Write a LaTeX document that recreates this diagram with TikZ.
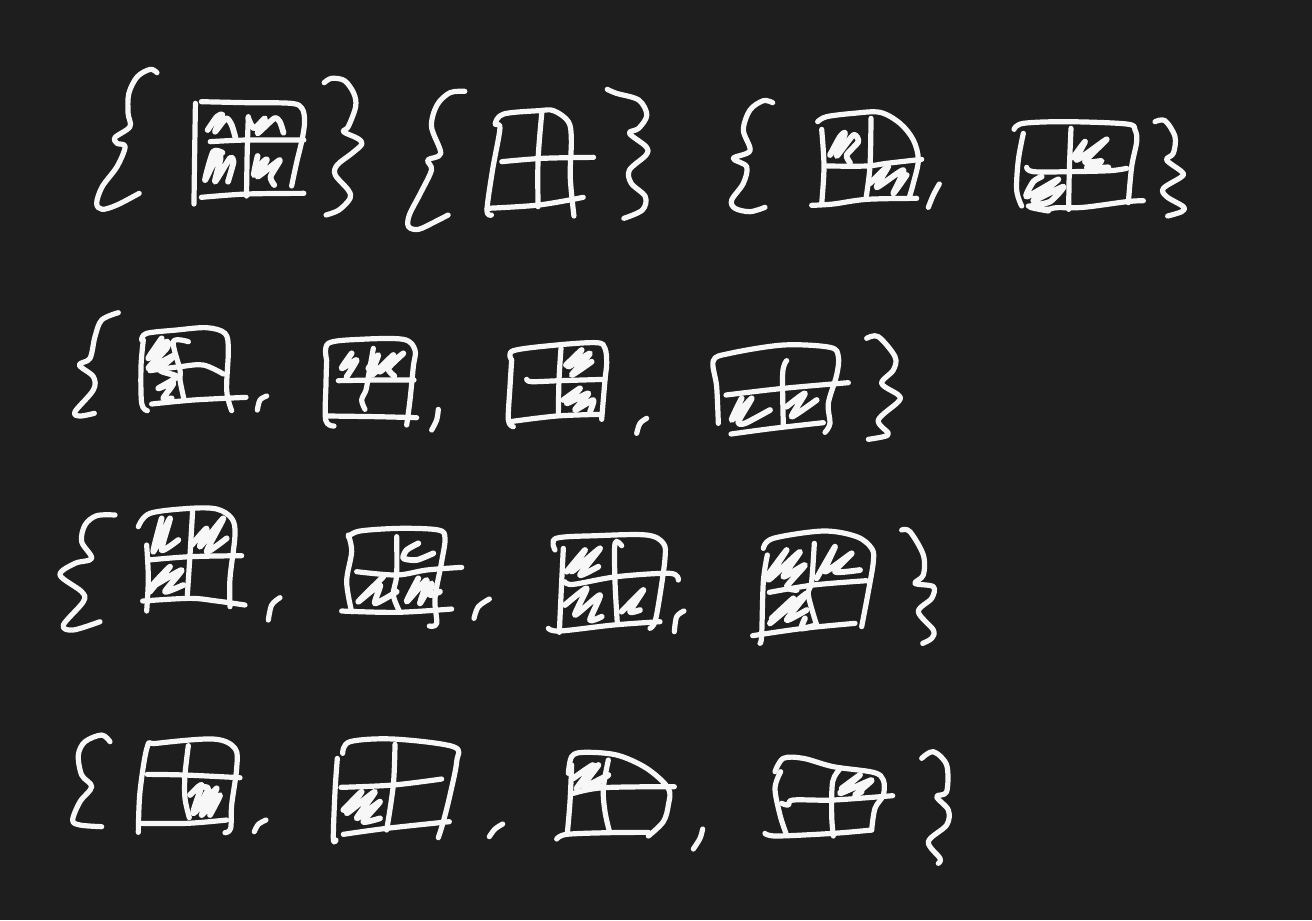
\documentclass[tikz,border=0pt]{standalone}
\definecolor{slate}{HTML}{1E1E1E}
\tikzset{
  ink/.style={white!97!black, line width=0.52mm, line cap=round, line join=round},
  shade ink/.style={ink, line width=0.58mm},
  crop/.style={shift={#1}, scale=0.33333}
}
\newcommand{\stroke}[1]{\draw[ink] plot[smooth, tension=0.55] coordinates {#1};}
\newcommand{\scribble}[1]{\draw[shade ink] plot[smooth, tension=0.4] coordinates {#1};}

\begin{document}
\begin{tikzpicture}[x=0.01cm, y=-0.01cm]
  \fill[slate] (0,0) rectangle (1312,920);
  % first row, left part
  \begin{scope}[shift={(80,50)}, xscale=0.37, yscale=0.33333]
    \stroke{(208,68) (190,58) (155,80) (132,130) (130,190) (135,230) (95,262) (100,280) (122,290) (100,350) (60,410) (45,460) (60,478) (100,465) (160,430)}
    \stroke{(312,160) (310,300) (308,462)}
    \stroke{(328,155) (450,158) (570,160) (600,175) (607,215) (600,270) (585,340) (572,408)}
    \stroke{(352,275) (450,270) (605,270)}
    \stroke{(328,442) (450,432) (605,430)}
    \stroke{(455,200) (452,300) (450,438)}
    \scribble{(345,240) (370,200) (385,195) (365,245) (395,205) (410,225) (420,262)}
    \scribble{(455,205) (470,235) (500,205) (480,250) (525,205) (540,215) (550,248)}
    \scribble{(385,308) (360,305) (338,390) (370,320) (380,325) (365,395) (405,325) (415,335) (400,395)}
    \scribble{(480,318) (470,375) (495,335) (505,330) (480,380) (540,330) (515,380) (525,405)}
    \stroke{(660,98) (680,85) (715,92) (740,130) (745,170) (725,230) (712,245) (750,265) (762,282) (735,310) (695,345) (690,375) (725,420) (730,445) (700,480) (665,495)}
    \stroke{(1040,124) (1000,128) (965,165) (950,230) (975,310) (940,330) (950,360) (920,430) (890,495) (888,530) (915,538) (960,515) (995,495)}
    \stroke{(1112,495) (1100,480) (1115,360) (1135,235) (1122,222) (1145,192) (1240,182) (1280,182) (1320,215) (1328,270) (1325,380) (1335,498)}
    \stroke{(1140,335) (1250,325) (1388,322)}
    \stroke{(1100,475) (1240,465) (1360,442)}
    \stroke{(1248,190) (1238,330) (1238,470)}
    \stroke{(1425,118) (1450,130) (1510,150) (1532,195) (1510,235) (1485,250) (1530,290) (1530,315) (1485,360) (1490,400) (1528,440) (1520,480) (1470,505)}
  \end{scope}
  % first row, right part
  \begin{scope}[crop={(700,80)}]
    \stroke{(218,68) (190,62) (150,90) (130,150) (150,212) (100,235) (140,260) (130,310) (95,360) (105,385) (150,395) (195,382)}
    \stroke{(365,148) (372,260) (365,372)}
    \stroke{(353,125) (380,110) (460,100) (540,97) (600,130) (640,180) (655,240) (640,310) (628,352)}
    \stroke{(382,258) (500,258) (560,250) (665,238)}
    \stroke{(335,376) (400,372) (500,358) (650,355)}
    \stroke{(513,115) (510,258) (498,355)}
    \scribble{(390,225) (420,170) (435,160) (410,228) (460,165) (475,185) (440,225) (450,248)}
    \scribble{(510,310) (565,258) (530,322) (610,270) (580,340) (620,285)}
    \stroke{(718,312) (700,345) (685,382)}
    \stroke{(942,148) (970,130) (1100,125) (1280,132) (1305,150) (1310,185) (1295,260) (1285,368)}
    \stroke{(970,160) (955,240) (950,330) (965,378)}
    \stroke{(980,262) (1000,275) (1110,275) (1230,272) (1280,265)}
    \stroke{(985,378) (1040,388) (1070,383) (1150,382) (1280,365) (1330,362)}
    \stroke{(1113,145) (1108,270) (1106,388)}
    \scribble{(1120,232) (1155,185) (1130,240) (1220,178) (1155,245) (1205,243) (1160,262) (1225,262)}
    \scribble{(1025,290) (1000,305) (980,350) (1075,298) (1000,362) (1090,320) (1050,365) (990,380) (1045,392)}
    \stroke{(1365,125) (1395,122) (1425,170) (1420,220) (1400,240) (1445,275) (1445,290) (1390,325) (1400,350) (1450,380) (1445,395) (1403,408)}
  \end{scope}
  % second row
  \begin{scope}[crop={(60,300)}]
    \stroke{(175,38) (125,60) (105,110) (90,175) (58,195) (100,230) (100,270) (45,335) (60,348) (103,340)}
    \stroke{(250,120) (243,200) (245,310) (262,332)}
    \stroke{(245,120) (260,100) (350,90) (440,83) (495,100) (505,150) (500,270) (515,332)}
    \stroke{(270,212) (360,200) (430,195) (490,222)}
    \stroke{(275,312) (400,300) (558,292)}
    \stroke{(385,125) (340,125) (360,210) (360,240) (372,298)}
    \scribble{(305,115) (265,175) (320,125) (320,145) (265,205) (345,165) (300,210) (350,230) (295,265) (340,250) (310,295) (335,295)}
    \stroke{(620,288) (600,300) (592,330)}
    \stroke{(800,180) (798,250) (797,360) (822,378)}
    \stroke{(800,180) (805,130) (900,118) (1030,118) (1065,150) (1060,200) (1050,300) (1040,375)}
    \stroke{(835,242) (950,240) (1062,240)}
    \stroke{(805,348) (950,350) (1070,353)}
    \stroke{(940,145) (925,230) (918,270) (905,300) (915,328)}
    \scribble{(875,160) (845,205) (890,180) (860,230)}
    \scribble{(925,205) (955,165) (935,225) (1000,165) (960,215) (1030,160) (985,205) (1003,228)}
    \stroke{(1135,328) (1130,360) (1115,390)}
  \end{scope}
  \begin{scope}[crop={(490,320)}]
    \stroke{(65,120) (60,200) (55,300) (70,320)}
    \stroke{(65,120) (70,92) (200,75) (320,68) (345,85) (350,130) (345,180) (335,298)}
    \stroke{(110,178) (125,185) (210,182) (345,178)}
    \stroke{(60,305) (200,288) (335,283)}
    \stroke{(213,85) (207,180) (205,285)}
    \scribble{(228,135) (275,90) (235,140) (300,100) (245,165) (305,125)}
    \scribble{(220,240) (270,205) (230,250) (295,220) (255,270) (310,240) (300,275)}
    \stroke{(470,295) (450,310) (440,340)}
    \stroke{(685,310) (680,200) (670,122) (720,100) (880,75) (1020,82) (1045,110) (1040,165) (1015,250) (1020,310) (1005,337)}
    \stroke{(708,225) (880,205) (1075,188)}
    \stroke{(723,342) (850,325) (1000,308)}
    \stroke{(890,122) (878,160) (880,315)}
    \scribble{(755,235) (725,300) (785,235) (745,305) (765,310) (840,270)}
    \scribble{(890,260) (945,220) (905,290) (980,240)}
    \stroke{(1130,55) (1165,50) (1215,110) (1210,150) (1175,190) (1225,225) (1225,245) (1165,300) (1195,340) (1180,350) (1135,358)}
  \end{scope}
  % third row
  \begin{scope}[crop={(50,495)}]
    \stroke{(195,60) (140,62) (105,90) (95,140) (125,190) (75,205) (30,240) (95,290) (100,320) (40,390) (70,405) (150,380)}
    \stroke{(265,95) (300,55) (420,40) (500,42) (545,70) (555,120) (540,250) (540,335)}
    \stroke{(290,150) (295,250) (290,348)}
    \stroke{(295,195) (420,185) (575,182)}
    \stroke{(278,318) (420,310) (500,318) (585,330)}
    \stroke{(428,45) (420,180) (412,300)}
    \scribble{(335,70) (310,170) (360,70) (335,165) (385,135)}
    \scribble{(425,150) (470,100) (450,155) (520,70) (470,170) (530,130)}
    \scribble{(300,290) (360,215) (305,275) (395,225) (345,290) (400,270)}
    \stroke{(690,308) (665,330) (655,375)}
    \stroke{(895,120) (905,170) (890,260) (905,350)}
    \stroke{(895,125) (930,108) (1050,100) (1165,105) (1185,130) (1175,200) (1155,310) (1160,385) (1138,393)}
    \stroke{(920,230) (1040,240) (1130,225) (1235,217)}
    \stroke{(875,348) (1040,352) (1205,342)}
    \stroke{(1040,125) (1040,240) (1030,300) (1050,352)}
    \scribble{(1105,145) (1070,165) (1060,190) (1100,195) (1150,175)}
    \scribble{(1000,245) (925,320) (990,270) (975,325) (1040,290)}
    \scribble{(1105,250) (1070,320) (1130,255) (1110,325) (1145,265) (1140,300) (1170,290)}
    \stroke{(1318,312) (1285,335) (1272,370)}
  \end{scope}
  \begin{scope}[crop={(530,515)}]
    \stroke{(100,100) (95,200) (88,352)}
    \stroke{(75,105) (78,70) (200,62) (350,60) (400,85) (405,130) (390,240) (375,320) (360,340)}
    \stroke{(105,200) (130,208) (260,185) (420,175) (445,195)}
    \stroke{(55,340) (90,348) (250,330) (390,320)}
    \stroke{(275,92) (255,85) (255,200) (262,325)}
    \scribble{(110,170) (165,105) (125,170) (210,100) (150,180) (205,155)}
    \scribble{(105,270) (170,220) (135,300) (210,240) (180,315) (215,305)}
    \scribble{(275,290) (340,225) (300,290) (330,285)}
    \stroke{(462,288) (440,305) (433,350)}
    \stroke{(712,120) (700,200) (695,360) (690,385)}
    \stroke{(700,100) (730,70) (880,48) (980,65) (1025,100) (1030,140) (1015,230) (995,335)}
    \stroke{(718,232) (850,210) (1010,197)}
    \stroke{(668,362) (820,340) (975,325)}
    \stroke{(853,85) (845,200) (835,240) (860,330)}
    \scribble{(860,330) (815,340) (825,310)}
    \scribble{(710,185) (770,105) (715,195) (810,110) (760,185) (825,150) (770,215) (800,225)}
    \scribble{(860,190) (915,95) (885,170) (965,115) (915,170) (990,165)}
    \scribble{(725,310) (790,250) (720,325) (830,235) (770,315) (830,285)}
    \stroke{(1115,45) (1140,50) (1180,120) (1180,180) (1155,205) (1210,215) (1205,250) (1165,290) (1210,345) (1205,370) (1178,385)}
  \end{scope}
  % fourth row
  \begin{scope}[crop={(60,725)}]
    \stroke{(150,50) (125,30) (75,50) (55,90) (65,150) (95,185) (60,230) (38,285) (60,300) (125,305)}
    \stroke{(235,322) (240,200) (262,65) (290,55) (460,42) (525,70) (530,130) (515,240) (512,310) (495,323)}
    \stroke{(262,148) (375,150) (540,158)}
    \stroke{(240,295) (380,295) (500,285)}
    \stroke{(385,62) (375,150) (375,220) (388,278)}
    \scribble{(390,210) (425,180) (400,265) (470,190) (425,270) (480,210) (450,270)}
    \scribble{(415,185) (445,190) (420,240) (460,200)}
    \stroke{(618,285) (595,298) (583,320)}
    \stroke{(832,100) (825,200) (820,340) (828,345)}
    \stroke{(848,85) (870,50) (1000,42) (1180,65) (1190,110) (1170,210) (1150,290) (1135,338)}
    \stroke{(843,187) (1000,180) (1145,162)}
    \stroke{(850,328) (980,310) (1168,290)}
    \stroke{(1005,58) (1000,180) (980,315)}
    \scribble{(850,255) (905,200) (860,265) (945,200) (890,280) (960,230) (910,290) (960,280)}
    \stroke{(1328,297) (1305,312) (1288,335)}
  \end{scope}
  \begin{scope}[crop={(540,735)}]
    \stroke{(95,90) (90,200) (82,295)}
    \stroke{(85,115) (95,65) (130,52) (230,60) (320,100) (385,160) (385,210) (370,260) (325,303)}
    \stroke{(100,175) (190,158) (403,155)}
    \stroke{(50,312) (80,298) (205,293) (325,292)}
    \stroke{(205,75) (190,160) (195,230) (208,288)}
    \scribble{(100,130) (160,90) (110,160) (175,90) (130,155) (205,120) (160,150) (185,155)}
    \stroke{(488,282) (480,310) (460,342)}
    \stroke{(722,110) (705,160) (720,240) (738,295)}
    \stroke{(705,110) (730,70) (790,70) (880,95) (1000,112) (1030,135) (1030,180) (1005,220) (995,285)}
    \stroke{(725,205) (745,210) (760,195) (880,195) (1058,182)}
    \stroke{(675,295) (710,303) (880,295) (995,285)}
    \stroke{(900,102) (878,140) (875,240) (880,303)}
    \scribble{(905,160) (960,120) (900,175) (995,135) (945,180) (965,170)}
    \stroke{(1145,70) (1180,50) (1220,90) (1220,170) (1190,185) (1225,225) (1220,270) (1165,320) (1200,370) (1195,385)}
  \end{scope}
\end{tikzpicture}
\end{document}
